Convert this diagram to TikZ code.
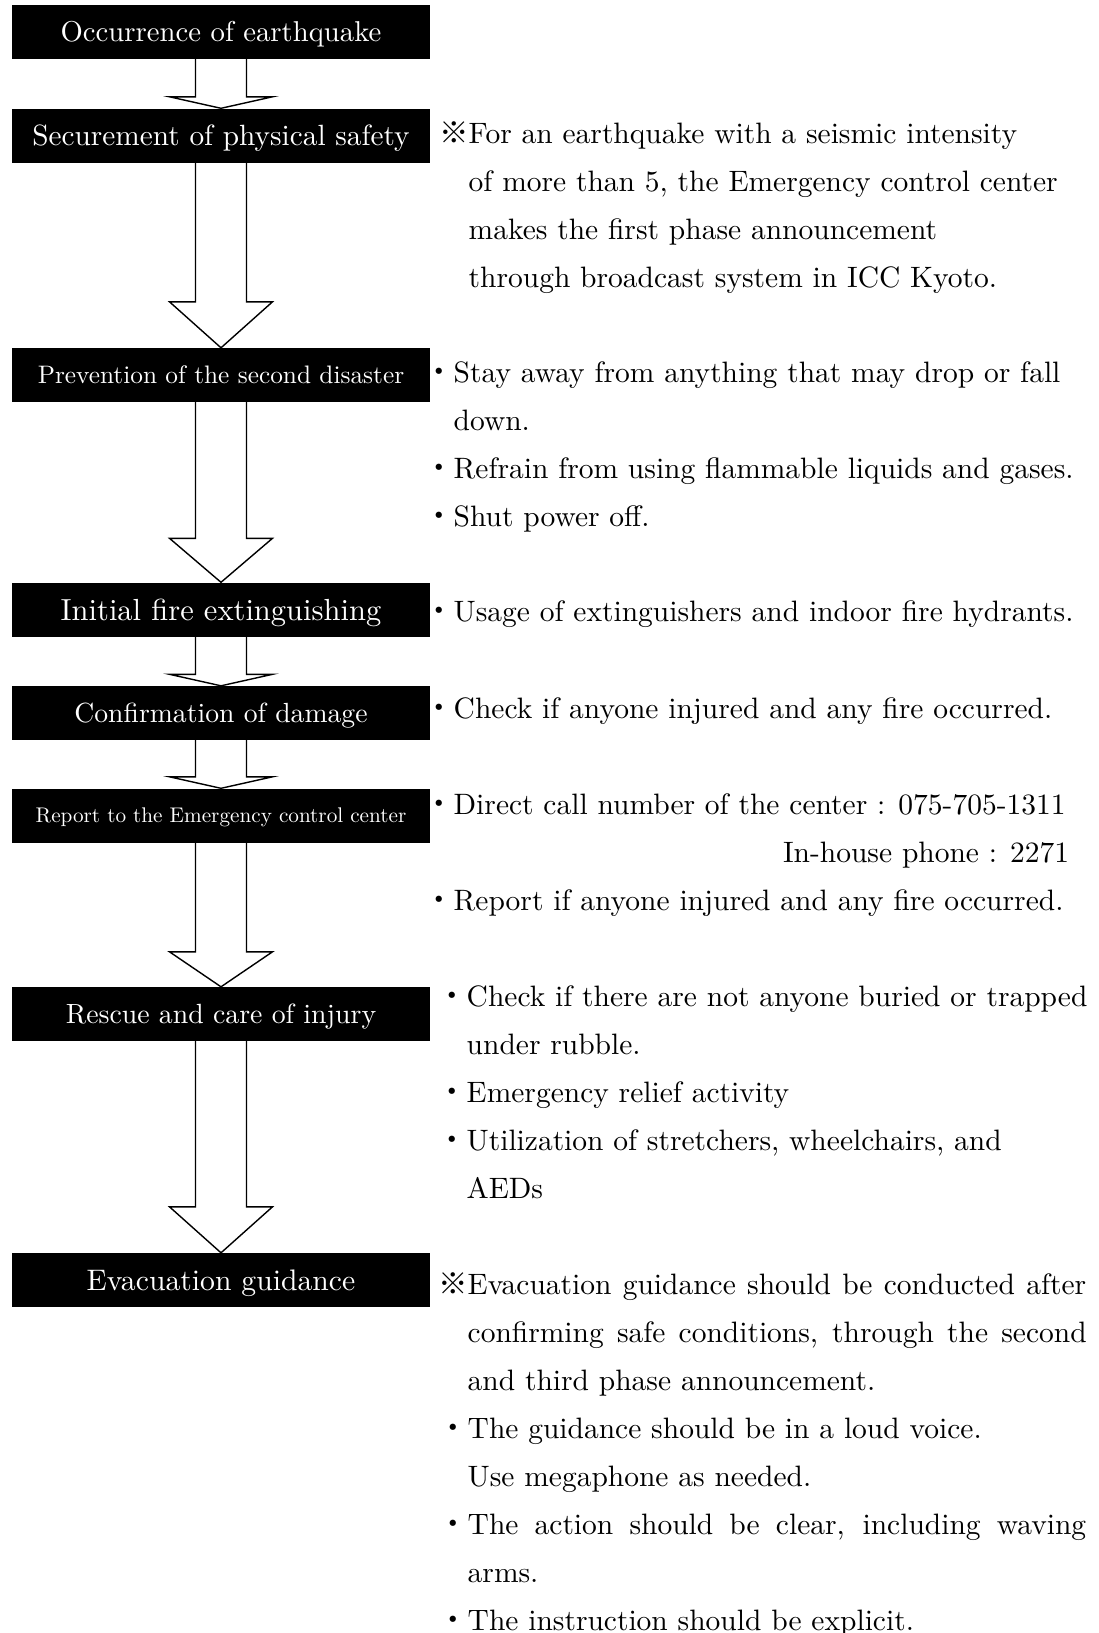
\documentclass[tikz,border=0pt]{standalone}
\usepackage{fontspec}
\setmainfont{lmroman10-regular.otf}
\usetikzlibrary{calc}
\newfontfamily\cjk{Noto Sans CJK JP}
\newcommand{\mk}{{\cjk ※}}
\newcommand{\bl}{{\cjk ・}}
\newcommand{\ind}{\hphantom{\bl}}
\newcommand{\fs}[1]{\fontsize{#1}{48}\selectfont}
% hollow block arrow from one step to the next, #3 = depth of the head
\newcommand{\flowarrow}[3]{%
  \draw[flowline] ($(#1.south)+(-25.5,0)$) -- ($(#2.north)+(-25.5,-#3)$)
    -- ($(#2.north)+(-51.5,-#3)$) -- (#2.north) -- ($(#2.north)+(51.5,-#3)$)
    -- ($(#2.north)+(25.5,-#3)$) -- ($(#1.south)+(25.5,0)$);}
\begin{document}
\begin{tikzpicture}[x=1pt, y=-1pt,
    stage/.style={fill=black, text=white, minimum width=418pt, minimum height=54pt,
      inner sep=0pt, text depth=0pt},
    note/.style={anchor=base west, align=left, inner sep=0pt, font=\fs{29.5}},
    flowline/.style={line width=1.4pt, line join=miter}]
  \useasboundingbox (0,0) rectangle (1098,1633);

  % Steps of the flow
  \node[stage, font=\fs{28.7}] (quake)   at (221,31.5)   {Occurrence of earthquake};
  \node[stage, font=\fs{29.3}] (safety)  at (221,135.5)  {Securement of physical safety};
  \node[stage, font=\fs{25.3}] (prevent) at (221,375)    {Prevention of the second disaster};
  \node[stage, font=\fs{30.5}] (fire)    at (221,609.5)  {Initial fire extinguishing};
  \node[stage, font=\fs{27.7}] (damage)  at (221,713)    {Confirmation of damage};
  \node[stage, font=\fs{21.2}] (report)  at (221,815.5)  {Report to the Emergency control center};
  \node[stage, font=\fs{27.8}] (rescue)  at (221,1014)   {Rescue and care of injury};
  \node[stage, font=\fs{29.7}] (evac)    at (221,1280)   {Evacuation guidance};

  % Arrows between the steps
  \flowarrow{quake}{safety}{11.5}
  \flowarrow{safety}{prevent}{46}
  \flowarrow{prevent}{fire}{44}
  \flowarrow{fire}{damage}{11.5}
  \flowarrow{damage}{report}{11.5}
  \flowarrow{report}{rescue}{35}
  \flowarrow{rescue}{evac}{46}

  % Notes on the right (placed at the baseline of their last line)
  \node[note] (safetynote) at (439,287) {\mk For an earthquake with a seismic intensity\\
    \ind of more than 5, the Emergency control center\\
    \ind makes the first phase announcement\\
    \ind through broadcast system in ICC Kyoto.};
  \node[note] (preventnote) at (424,526) {\bl Stay away from anything that may drop or fall\\
    \ind down.\\
    \bl Refrain from using flammable liquids and gases.\\
    \bl Shut power off.};
  \node[note] (firenote) at (424,621) {\bl Usage of extinguishers and indoor fire hydrants.};
  \node[note] (damagenote) at (424,718) {\bl Check if anyone injured and any fire occurred.};
  \node[note] (reportnote) at (424,910) {\bl Direct call number of the center : 075-705-1311\\
    \makebox[645pt][r]{In-house phone : 2271}\\
    \bl Report if anyone injured and any fire occurred.};
  \node[note] (rescuenote) at (437,1198) {\bl Check if there are not anyone buried or trapped\\
    \ind under rubble.\\
    \bl Emergency relief activity\\
    \bl Utilization of stretchers, wheelchairs, and\\
    \ind AEDs};
  \node[note] (evacnote) at (438,1630) {\makebox[648pt][s]{\mk Evacuation guidance should be conducted after}\\
    \ind\makebox[619pt][s]{confirming safe conditions, through the second}\\
    \ind and third phase announcement.\\
    \bl The guidance should be in a loud voice.\\
    \ind Use megaphone as needed.\\
    \makebox[648pt][s]{\bl The action should be clear, including waving}\\
    \ind arms.\\
    \bl The instruction should be explicit.};
\end{tikzpicture}
\end{document}
